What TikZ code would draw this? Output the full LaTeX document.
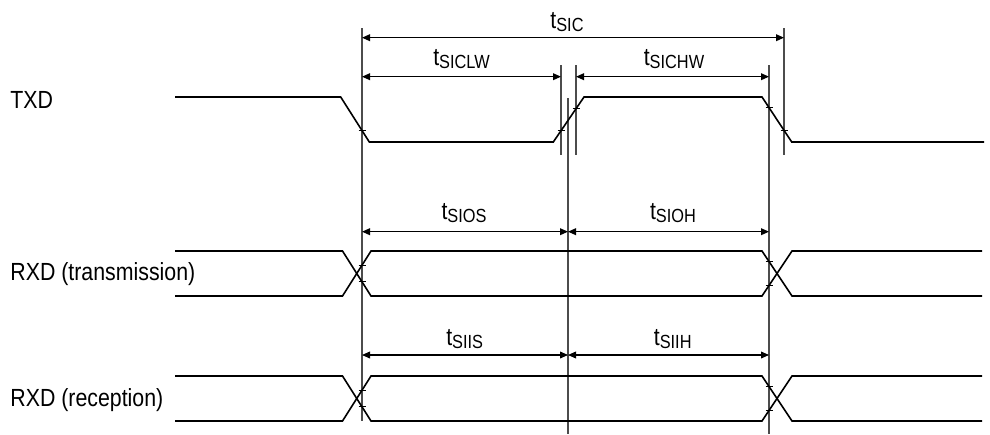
\documentclass[tikz,border=0pt]{standalone}
\usepackage{fontspec}
\setmainfont[FakeStretch=0.86]{Liberation Sans}
\usetikzlibrary{arrows.meta}
\newcommand{\tsub}[1]{t{\fontsize{9.5}{10}\selectfont\raisebox{-1.5pt}{#1}}}

\begin{document}
\begin{tikzpicture}[x = 0.5pt, y = -0.5pt, font = \fontsize{12.4}{14}\selectfont]
	\tikzstyle{signalStyle} = [line width = 0.8pt, line join = miter]
	\tikzstyle{markerStyle} = [line width = 0.65pt, draw = black!70]
	\tikzstyle{tickStyle} = [line width = 0.5pt]
	\tikzstyle{dimStyle} = [line width = 0.55pt, {Triangle[length = 4pt, width = 3.4pt]}-{Triangle[length = 4pt, width = 3.4pt]}]
	\tikzstyle{timeStyle} = [anchor = base, inner sep = 0pt]
	\tikzstyle{nameStyle} = [anchor = base west, inner sep = 0pt]
	\useasboundingbox (0, 0) rectangle (990, 434);
	\node[nameStyle] (nTXD) at (10, 108.3) {TXD};
	\node[nameStyle] (nTR) at (10, 280.7) {RXD (transmission)};
	\node[nameStyle] (nRE) at (10, 406.7) {RXD (reception)};
	\coordinate (m1t) at (362, 28);
	\coordinate (m1b) at (362, 421);
	\coordinate (m2t) at (561, 65);
	\coordinate (m2b) at (561, 155);
	\coordinate (m3t) at (568, 98);
	\coordinate (m3b) at (568, 434);
	\coordinate (m4t) at (576, 65);
	\coordinate (m4b) at (576, 155);
	\coordinate (m5t) at (769, 65);
	\coordinate (m5b) at (769, 434);
	\coordinate (m6t) at (784, 28);
	\coordinate (m6b) at (784, 155);
	\draw[markerStyle] (m1t) -- (m1b);
	\draw[markerStyle] (m2t) -- (m2b);
	\draw[markerStyle] (m3t) -- (m3b);
	\draw[markerStyle] (m4t) -- (m4b);
	\draw[markerStyle] (m5t) -- (m5b);
	\draw[markerStyle] (m6t) -- (m6b);
	\coordinate (tx0) at (175, 97);
	\coordinate (tx1) at (340.7, 97);
	\coordinate (tx2) at (369.3, 142);
	\coordinate (tx3) at (553.3, 142);
	\coordinate (tx4) at (584, 97);
	\coordinate (tx5) at (762, 97);
	\coordinate (tx6) at (791.7, 142);
	\coordinate (tx7) at (984, 142);
	\draw[signalStyle] (tx0) -- (tx1) -- (tx2) -- (tx3) -- (tx4) -- (tx5) -- (tx6) -- (tx7);
	\coordinate (trA0) at (175, 251);
	\coordinate (trA1) at (342.5, 251);
	\coordinate (trA2) at (371, 296);
	\coordinate (trA3) at (762, 296);
	\coordinate (trA4) at (792, 251);
	\coordinate (trA5) at (982, 251);
	\coordinate (trB0) at (175, 296);
	\coordinate (trB1) at (342.5, 296);
	\coordinate (trB2) at (371, 251);
	\coordinate (trB3) at (762, 251);
	\coordinate (trB4) at (792, 296);
	\coordinate (trB5) at (982, 296);
	\draw[signalStyle] (trA0) -- (trA1) -- (trA2) -- (trA3) -- (trA4) -- (trA5);
	\draw[signalStyle] (trB0) -- (trB1) -- (trB2) -- (trB3) -- (trB4) -- (trB5);
	\coordinate (reA0) at (175, 376);
	\coordinate (reA1) at (342.5, 376);
	\coordinate (reA2) at (371, 421);
	\coordinate (reA3) at (762, 421);
	\coordinate (reA4) at (792, 376);
	\coordinate (reA5) at (982, 376);
	\coordinate (reB0) at (175, 421);
	\coordinate (reB1) at (342.5, 421);
	\coordinate (reB2) at (371, 376);
	\coordinate (reB3) at (762, 376);
	\coordinate (reB4) at (792, 421);
	\coordinate (reB5) at (982, 421);
	\draw[signalStyle] (reA0) -- (reA1) -- (reA2) -- (reA3) -- (reA4) -- (reA5);
	\draw[signalStyle] (reB0) -- (reB1) -- (reB2) -- (reB3) -- (reB4) -- (reB5);
	\coordinate (k1) at (intersection of m1t--m1b and tx1--tx2);
	\coordinate (k2) at (intersection of m2t--m2b and tx3--tx4);
	\coordinate (k3) at (intersection of m4t--m4b and tx3--tx4);
	\coordinate (k4) at (intersection of m5t--m5b and tx5--tx6);
	\coordinate (k5) at (intersection of m6t--m6b and tx5--tx6);
	\coordinate (k6) at (intersection of m1t--m1b and trA1--trA2);
	\coordinate (k7) at (intersection of m1t--m1b and trB1--trB2);
	\coordinate (k8) at (intersection of m5t--m5b and trA3--trA4);
	\coordinate (k9) at (intersection of m5t--m5b and trB3--trB4);
	\coordinate (k10) at (intersection of m1t--m1b and reA1--reA2);
	\coordinate (k11) at (intersection of m1t--m1b and reB1--reB2);
	\coordinate (k12) at (intersection of m5t--m5b and reA3--reA4);
	\coordinate (k13) at (intersection of m5t--m5b and reB3--reB4);
	\draw[tickStyle] (k1) ++(-3.5, 0) -- ++(7, 0);
	\draw[tickStyle] (k2) ++(-3.5, 0) -- ++(7, 0);
	\draw[tickStyle] (k3) ++(-3.5, 0) -- ++(7, 0);
	\draw[tickStyle] (k4) ++(-3.5, 0) -- ++(7, 0);
	\draw[tickStyle] (k5) ++(-3.5, 0) -- ++(7, 0);
	\draw[tickStyle] (k6) ++(-3.5, 0) -- ++(7, 0);
	\draw[tickStyle] (k7) ++(-3.5, 0) -- ++(7, 0);
	\draw[tickStyle] (k8) ++(-3.5, 0) -- ++(7, 0);
	\draw[tickStyle] (k9) ++(-3.5, 0) -- ++(7, 0);
	\draw[tickStyle] (k10) ++(-3.5, 0) -- ++(7, 0);
	\draw[tickStyle] (k11) ++(-3.5, 0) -- ++(7, 0);
	\draw[tickStyle] (k12) ++(-3.5, 0) -- ++(7, 0);
	\draw[tickStyle] (k13) ++(-3.5, 0) -- ++(7, 0);
	\coordinate (dSICa) at (362, 37.7);
	\coordinate (dSICb) at (784, 37.7);
	\coordinate (dLWa) at (362, 76.7);
	\coordinate (dLWb) at (561, 76.7);
	\coordinate (dHWa) at (576, 76.7);
	\coordinate (dHWb) at (769, 76.7);
	\coordinate (dOSa) at (362, 231.7);
	\coordinate (dOSb) at (568, 231.7);
	\coordinate (dOHb) at (769, 231.7);
	\coordinate (dISa) at (362, 355);
	\coordinate (dISb) at (568, 355);
	\coordinate (dIHb) at (769, 355);
	\draw[dimStyle] (dSICa) -- (dSICb);
	\draw[dimStyle] (dLWa) -- (dLWb);
	\draw[dimStyle] (dHWa) -- (dHWb);
	\draw[dimStyle] (dOSa) -- (dOSb);
	\draw[dimStyle] (dOSb) -- (dOHb);
	\draw[dimStyle] (dISa) -- (dISb);
	\draw[dimStyle] (dISb) -- (dIHb);
	\node[timeStyle] (lSIC) at (567, 28.3) {\tsub{SIC}};
	\node[timeStyle] (lSICLW) at (461.5, 65) {\tsub{SICLW}};
	\node[timeStyle] (lSICHW) at (674, 65) {\tsub{SICHW}};
	\node[timeStyle] (lSIOS) at (464, 219.3) {\tsub{SIOS}};
	\node[timeStyle] (lSIOH) at (673, 219.3) {\tsub{SIOH}};
	\node[timeStyle] (lSIIS) at (464.7, 345) {\tsub{SIIS}};
	\node[timeStyle] (lSIIH) at (672.7, 345) {\tsub{SIIH}};
\end{tikzpicture}
\end{document}
